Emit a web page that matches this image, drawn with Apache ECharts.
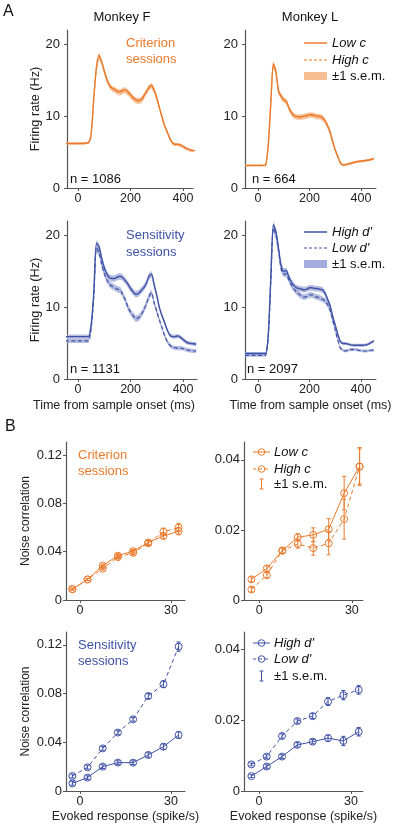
<!DOCTYPE html>
<html><head><meta charset="utf-8">
<script src="https://cdn.jsdelivr.net/npm/echarts@6/dist/echarts.min.js"></script>
<style>html,body{margin:0;padding:0;background:#fff}#c{width:400px;height:828px}</style>
</head><body><div id="c"></div>
<script>
// ---------- Panel A: firing rate time courses ----------
const time = [-50,-40,-30,-20,-10,0,10,20,30,40,50,60,70,80,90,100,110,120,130,140,150,160,170,180,190,200,210,220,230,240,250,260,270,280,290,300,310,320,330,340,350,360,370,380,390,400,410,420,430,440,450];

const fLowC  = [6.2,6.2,6.2,6.2,6.2,6.2,6.2,6.2,6.25,6.3,7.5,12.5,16.8,18.5,17.6,16.3,15.1,14.3,13.9,13.7,13.5,13.4,13.6,13.7,13.4,13.0,12.6,12.3,12.2,12.3,12.8,13.4,14.0,14.3,13.6,12.6,11.2,9.9,8.7,7.8,6.9,6.3,6.1,6.1,6.0,5.8,5.6,5.4,5.3,5.2,5.2];
const fHighC = [6.2,6.2,6.2,6.2,6.2,6.2,6.2,6.2,6.25,6.3,7.4,12.3,16.6,18.3,17.5,16.2,15.0,14.2,13.8,13.6,13.3,13.2,13.4,13.5,13.2,12.8,12.4,12.1,12.0,12.1,12.6,13.3,13.9,14.2,13.5,12.5,11.1,9.8,8.6,7.7,6.8,6.2,6.0,6.0,5.9,5.7,5.5,5.3,5.2,5.15,5.1];
const semFC  = [0.15,0.15,0.15,0.15,0.15,0.15,0.15,0.15,0.15,0.15,0.2,0.3,0.4,0.45,0.4,0.35,0.35,0.35,0.35,0.35,0.35,0.35,0.35,0.35,0.35,0.35,0.35,0.35,0.35,0.35,0.35,0.35,0.35,0.35,0.35,0.35,0.25,0.22,0.2,0.2,0.18,0.18,0.18,0.18,0.18,0.18,0.18,0.18,0.18,0.18,0.18];

const lLowC  = [3.15,3.15,3.15,3.15,3.15,3.15,3.15,3.15,3.2,6.0,11.8,17.3,16.2,13.5,12.8,12.3,12.1,11.2,10.5,10.1,9.95,9.9,9.95,10.0,10.1,10.2,10.2,10.1,10.0,10.0,9.8,9.4,8.7,7.8,6.5,5.3,4.4,3.5,3.2,3.25,3.35,3.45,3.55,3.65,3.7,3.75,3.8,3.85,3.9,4.0,4.1];
const lHighC = [3.1,3.1,3.1,3.1,3.1,3.1,3.1,3.1,3.15,5.9,11.6,17.1,16.1,13.4,12.7,12.2,12.0,11.1,10.4,10.0,9.85,9.8,9.85,9.9,10.0,10.1,10.1,10.0,9.9,9.9,9.7,9.3,8.6,7.7,6.4,5.2,4.3,3.45,3.15,3.2,3.3,3.4,3.5,3.6,3.65,3.7,3.75,3.8,3.85,3.95,4.05];
const semLC  = [0.12,0.12,0.12,0.12,0.12,0.12,0.12,0.12,0.12,0.2,0.35,0.45,0.45,0.4,0.35,0.35,0.35,0.35,0.35,0.35,0.35,0.35,0.35,0.35,0.35,0.35,0.35,0.35,0.35,0.35,0.35,0.35,0.35,0.35,0.35,0.25,0.2,0.18,0.15,0.15,0.15,0.15,0.15,0.15,0.15,0.15,0.15,0.15,0.15,0.15,0.15];

const fHighD = [5.9,5.9,5.9,5.9,5.9,5.9,5.9,5.9,5.9,5.9,7.5,12.0,18.9,18.4,16.8,15.5,14.6,14.1,14.0,14.0,14.2,14.3,14.1,13.7,13.2,12.6,12.1,11.8,11.9,12.3,12.7,13.3,14.3,14.6,13.1,11.6,9.9,8.8,7.8,6.8,6.1,5.9,5.9,6.0,5.8,5.5,5.2,5.0,4.95,4.9,4.85];
const fLowD  = [5.3,5.3,5.3,5.3,5.3,5.3,5.3,5.3,5.3,5.3,7.0,11.5,18.2,17.6,16.0,14.7,13.8,13.2,12.9,12.7,12.5,12.4,11.8,11.0,10.0,9.3,8.8,8.4,8.5,8.9,9.6,10.4,11.5,12.0,10.6,9.4,8.2,7.1,6.0,5.2,4.7,4.4,4.35,4.3,4.3,4.25,4.1,4.0,3.95,3.9,3.9];
const semFS  = [0.3,0.3,0.3,0.3,0.3,0.3,0.3,0.3,0.3,0.3,0.35,0.4,0.5,0.55,0.5,0.45,0.45,0.45,0.45,0.45,0.45,0.45,0.45,0.45,0.45,0.45,0.45,0.45,0.45,0.45,0.45,0.45,0.45,0.45,0.45,0.45,0.35,0.3,0.3,0.28,0.28,0.28,0.28,0.28,0.28,0.28,0.28,0.28,0.28,0.28,0.28];

const lHighD = [3.55,3.55,3.55,3.55,3.55,3.55,3.55,3.55,3.55,6.0,14.0,21.5,20.5,18.2,15.8,15.0,15.1,14.2,13.5,13.0,12.7,12.6,12.5,12.4,12.5,12.7,12.7,12.6,12.6,12.5,12.4,12.0,11.1,10.2,8.7,7.5,6.2,5.2,4.95,4.95,4.85,4.75,4.7,4.7,4.7,4.7,4.7,4.75,4.9,5.1,5.3];
const lLowD  = [3.3,3.3,3.3,3.3,3.3,3.3,3.3,3.3,3.3,5.8,13.6,21.0,20.0,17.8,15.3,14.6,14.6,13.8,13.05,12.5,12.1,11.8,11.5,11.4,11.5,11.7,11.7,11.5,11.4,11.3,11.1,10.9,10.4,9.6,8.2,6.8,5.4,4.3,4.0,3.9,4.0,4.1,4.1,4.1,4.0,3.95,3.9,3.9,3.95,4.0,4.0];
const semLS  = [0.2,0.2,0.2,0.2,0.2,0.2,0.2,0.2,0.2,0.3,0.45,0.5,0.5,0.45,0.4,0.4,0.4,0.4,0.4,0.4,0.4,0.4,0.4,0.4,0.4,0.4,0.4,0.4,0.4,0.4,0.4,0.4,0.4,0.4,0.4,0.3,0.25,0.22,0.2,0.2,0.2,0.2,0.2,0.2,0.2,0.2,0.2,0.2,0.2,0.2,0.2];

const timeTicks = [0, 200, 400];
const rateTicks = [0, 10, 20];

// ---------- Panel B: noise correlation vs evoked response ----------
const evoked = [-2.5, 2.5, 7.5, 12.5, 17.5, 22.5, 27.5, 32.5];
const evokedTicks = [0, 30];

const ncFLowC  = [0.009, 0.017, 0.0285, 0.0367, 0.0405, 0.0475, 0.053, 0.057];
const ncFHighC = [0.009, 0.017, 0.026, 0.0355, 0.039, 0.047, 0.0565, 0.060];
const erFLowC  = [0.0008, 0.0008, 0.0012, 0.0015, 0.0015, 0.0018, 0.0025, 0.003];
const erFHighC = [0.0008, 0.0009, 0.0012, 0.0015, 0.0018, 0.002, 0.003, 0.0035];

const ncLLowC  = [0.0059, 0.009, 0.0141, 0.0179, 0.0186, 0.0202, 0.0305, 0.0381];
const ncLHighC = [0.003, 0.0071, 0.0141, 0.016, 0.0148, 0.0162, 0.0231, 0.0381];
const erLLowC  = [0.0007, 0.0008, 0.0008, 0.001, 0.002, 0.003, 0.0048, 0.0054];
const erLHighC = [0.0007, 0.0008, 0.0008, 0.0012, 0.002, 0.0033, 0.0057, 0.005];

const ncFHighD = [0.0063, 0.011, 0.020, 0.0233, 0.0233, 0.0296, 0.0364, 0.046];
const ncFLowD  = [0.0123, 0.0195, 0.035, 0.048, 0.0589, 0.078, 0.0877, 0.1186];
const erFHighD = [0.0015, 0.0015, 0.0015, 0.0015, 0.0015, 0.0018, 0.0022, 0.0028];
const erFLowD  = [0.0015, 0.0015, 0.0015, 0.0015, 0.0015, 0.002, 0.0028, 0.0038];

const ncLHighD = [0.0042, 0.0069, 0.0097, 0.013, 0.0139, 0.0149, 0.0141, 0.0167];
const ncLLowD  = [0.0075, 0.0097, 0.0155, 0.0197, 0.0211, 0.0252, 0.027, 0.0285];
const erLHighD = [0.0004, 0.0005, 0.0005, 0.0006, 0.0006, 0.0009, 0.0013, 0.0012];
const erLLowD  = [0.0004, 0.0005, 0.0006, 0.0006, 0.0007, 0.0011, 0.0013, 0.0012];

const ncTicksBig = [0, 0.04, 0.08, 0.12];
const ncTicksSmall = [0, 0.02, 0.04];

// ---------- styling ----------
const FONT = 'Liberation Sans, Arial, Helvetica, sans-serif';
const OR = '#EA7A2C', OR_L = '#F1A56C', OR_B = '#F5BE93';
const BL = '#3F52A6', BL_B = '#A3ACDA';
const AX = '#555';

const grids = [
  {left: 67,  top: 30,  width: 126, height: 158},
  {left: 245, top: 30,  width: 131, height: 158},
  {left: 67,  top: 221, width: 130, height: 158},
  {left: 245, top: 221, width: 131, height: 158},
  {left: 66,  top: 442, width: 119, height: 158},
  {left: 244, top: 442, width: 119, height: 158},
  {left: 66,  top: 632, width: 119, height: 159},
  {left: 244, top: 632, width: 119, height: 159}
];
const xr = [[-42,438],[-50,458],[-42,453],[-50,458],[-4.6,34.6],[-4.9,33.6],[-4.6,34.6],[-4.9,33.9]];
const yr = [[0,22],[0,22],[0,22],[0,22],[0,0.1308],[0,0.0451],[0,0.1306],[0,0.0448]];

function xAxisDef(i) {
  const isA = i < 4;
  const ticks = isA ? timeTicks : evokedTicks;
  let name = '', gap = 20, pad = [0,0,0,0];
  if (i === 2) { name = 'Time from sample onset (ms)'; pad = [0, 36, 0, 0]; }
  if (i === 3) { name = 'Time from sample onset (ms)'; }
  if (i === 6 || i === 7) { name = 'Evoked response (spike/s)'; gap = 19; }
  return {
    type: 'value', gridIndex: i, min: xr[i][0], max: xr[i][1],
    name, nameLocation: 'middle', nameGap: gap,
    nameTextStyle: {fontFamily: FONT, fontSize: 12.5, color: '#222', padding: pad},
    splitLine: {show: false},
    axisLine: {show: true, onZero: false, lineStyle: {color: AX, width: 1}},
    axisTick: {show: true, length: 3, customValues: ticks, lineStyle: {color: AX}},
    axisLabel: {customValues: ticks, margin: 4, fontFamily: FONT, fontSize: 12.5, color: '#222'}
  };
}
function yAxisDef(i) {
  const isA = i < 4;
  let ticks = isA ? rateTicks : ((i === 4 || i === 6) ? ncTicksBig : ncTicksSmall);
  let name = '', gap = 23;
  if (i === 0 || i === 2) name = 'Firing rate (Hz)';
  if (i === 4 || i === 6) { name = 'Noise correlation'; gap = 34; }
  return {
    type: 'value', gridIndex: i, min: yr[i][0], max: yr[i][1],
    name, nameLocation: 'middle', nameGap: gap,
    nameTextStyle: {fontFamily: FONT, fontSize: isA ? 12.7 : 12, color: '#222'},
    splitLine: {show: false},
    axisLine: {show: true, onZero: false, lineStyle: {color: AX, width: 1.2}},
    axisTick: {show: true, length: 3, customValues: ticks, lineStyle: {color: AX}},
    axisLabel: {customValues: ticks, margin: isA ? 7 : 4, fontFamily: FONT, fontSize: 13, color: '#222',
      formatter: v => (v === 0 ? '0' : String(+v.toFixed(3)))}
  };
}

const series = [];
// s.e.m. band: a polygon built from the data through the axis scales
function band(gi, vals, sem, color) {
  const data = time.map((t, k) => [t, vals[k] - sem[k], vals[k] + sem[k]]);
  series.push({type: 'custom', xAxisIndex: gi, yAxisIndex: gi, silent: true, z: 1,
    data: data, encode: {x: 0, y: [1, 2]},
    renderItem: function (params, api) {
      if (params.dataIndex !== 0) return null;
      const up = [], lo = [];
      for (let k = 0; k < data.length; k++) {
        up.push(api.coord([data[k][0], data[k][2]]));
        lo.push(api.coord([data[k][0], data[k][1]]));
      }
      const pts = up.concat(lo.reverse());
      const cs = params.coordSys;
      return {type: 'polygon', shape: {points: pts}, style: {fill: color, opacity: 0.8},
        clipPath: {type: 'rect', shape: {x: cs.x, y: cs.y, width: cs.width, height: cs.height}}};
    }});
}
function trace(gi, vals, color, dashed) {
  series.push({type: 'line', xAxisIndex: gi, yAxisIndex: gi, symbol: 'none', silent: true, smooth: 0.25,
    lineStyle: {color: color, width: dashed ? 1.2 : 1.4, type: dashed ? [4, 2.5] : 'solid'},
    data: time.map((t, k) => [t, vals[k]]), z: 3});
}
function ncLine(gi, ys, color, dashed) {
  series.push({type: 'line', xAxisIndex: gi, yAxisIndex: gi, symbol: 'circle', symbolSize: 7, silent: true,
    lineStyle: {color: color, width: 1, type: dashed ? [4, 3] : 'solid'},
    itemStyle: {color: 'rgba(255,255,255,0)', borderColor: color, borderWidth: 1},
    data: evoked.map((x, k) => [x, ys[k]]), z: 3});
}
function errBars(gi, ys, es, color) {
  series.push({type: 'custom', xAxisIndex: gi, yAxisIndex: gi, silent: true, z: 4,
    data: evoked.map((x, k) => [x, ys[k] - es[k], ys[k] + es[k]]),
    encode: {x: 0, y: [1, 2]},
    renderItem: function (params, api) {
      const lo = api.coord([api.value(0), api.value(1)]);
      const hi = api.coord([api.value(0), api.value(2)]);
      const w = 2, st = {stroke: color, lineWidth: 1};
      return {type: 'group', children: [
        {type: 'line', shape: {x1: lo[0], y1: lo[1], x2: hi[0], y2: hi[1]}, style: st},
        {type: 'line', shape: {x1: lo[0] - w, y1: lo[1], x2: lo[0] + w, y2: lo[1]}, style: st},
        {type: 'line', shape: {x1: hi[0] - w, y1: hi[1], x2: hi[0] + w, y2: hi[1]}, style: st}
      ]};
    }});
}

// Panel A
band(0, fHighC, semFC, OR_B); band(0, fLowC, semFC, OR_B);
trace(0, fHighC, OR_L, true); trace(0, fLowC, OR, false);
band(1, lHighC, semLC, OR_B); band(1, lLowC, semLC, OR_B);
trace(1, lHighC, OR_L, true); trace(1, lLowC, OR, false);
band(2, fLowD, semFS, BL_B); band(2, fHighD, semFS, BL_B);
trace(2, fLowD, BL, true); trace(2, fHighD, BL, false);
band(3, lLowD, semLS, BL_B); band(3, lHighD, semLS, BL_B);
trace(3, lLowD, BL, true); trace(3, lHighD, BL, false);
// Panel B
errBars(4, ncFLowC, erFLowC, OR); errBars(4, ncFHighC, erFHighC, OR);
ncLine(4, ncFLowC, OR, false); ncLine(4, ncFHighC, OR, true);
errBars(5, ncLLowC, erLLowC, OR); errBars(5, ncLHighC, erLHighC, OR);
ncLine(5, ncLLowC, OR, false); ncLine(5, ncLHighC, OR, true);
errBars(6, ncFHighD, erFHighD, BL); errBars(6, ncFLowD, erFLowD, BL);
ncLine(6, ncFHighD, BL, false); ncLine(6, ncFLowD, BL, true);
errBars(7, ncLHighD, erLHighD, BL); errBars(7, ncLLowD, erLLowD, BL);
ncLine(7, ncLHighD, BL, false); ncLine(7, ncLLowD, BL, true);

// ---------- annotations / legends ----------
function txt(x, y, s, o) {
  o = o || {};
  return {type: 'text', x: x, y: y, silent: true, z: 10, style: {text: s, fill: o.fill || '#111',
    font: (o.italic ? 'italic ' : '') + (o.weight || 'normal') + ' ' + (o.size || 13) + 'px ' + FONT,
    align: o.align || 'left', verticalAlign: 'middle'}};
}
function ln(x1, y1, x2, y2, c, w, dash) {
  return {type: 'line', silent: true, z: 10, shape: {x1, y1, x2, y2}, style: {stroke: c, lineWidth: w || 1.4, lineDash: dash || null}};
}
function circ(cx, cy, c) {
  return {type: 'circle', silent: true, z: 11, shape: {cx, cy, r: 3.3}, style: {stroke: c, fill: 'rgba(0,0,0,0)', lineWidth: 1}};
}
const G = [];
G.push(txt(3, 12, 'A', {size: 16}));
G.push(txt(5, 427, 'B', {size: 16}));
G.push(txt(122, 17, 'Monkey F', {size: 13, align: 'center'}));
G.push(txt(310, 17, 'Monkey L', {size: 13, align: 'center'}));
G.push(txt(126, 43, 'Criterion', {fill: OR}));
G.push(txt(126, 59, 'sessions', {fill: OR}));
G.push(txt(126, 235, 'Sensitivity', {fill: BL}));
G.push(txt(126, 252, 'sessions', {fill: BL}));
G.push(txt(78, 455, 'Criterion', {fill: OR}));
G.push(txt(78, 471, 'sessions', {fill: OR}));
G.push(txt(78, 645, 'Sensitivity', {fill: BL}));
G.push(txt(78, 661, 'sessions', {fill: BL}));
G.push(txt(70, 179, 'n = 1086'));
G.push(txt(252, 179, 'n = 664'));
G.push(txt(70, 369, 'n = 1131'));
G.push(txt(247, 369, 'n = 2097'));
// Legend A top-right
G.push(ln(304, 43, 327, 43, OR, 1.5)); G.push(txt(332, 43, 'Low c', {italic: true}));
G.push(ln(304, 60, 327, 60, OR_L, 1.3, [3, 2])); G.push(txt(332, 60, 'High c', {italic: true}));
G.push({type: 'rect', silent: true, z: 10, shape: {x: 304, y: 72, width: 23, height: 8}, style: {fill: OR_B}});
G.push(txt(332, 76, '±1 s.e.m.'));
// Legend A bottom-right
G.push(ln(304, 232, 327, 232, BL, 1.5)); G.push(txt(332, 232, "High d'", {italic: true}));
G.push(ln(304, 248, 327, 248, BL, 1.2, [3, 2])); G.push(txt(332, 248, "Low d'", {italic: true}));
G.push({type: 'rect', silent: true, z: 10, shape: {x: 304, y: 260, width: 23, height: 8}, style: {fill: BL_B}});
G.push(txt(332, 264, '±1 s.e.m.'));
// Legend B top-right
G.push(ln(253, 452, 270, 452, OR, 1)); G.push(circ(261.5, 452, OR)); G.push(txt(274, 452, 'Low c', {italic: true}));
G.push(ln(253, 469, 270, 469, OR, 1, [3, 3])); G.push(circ(261.5, 469, OR)); G.push(txt(274, 469, 'High c', {italic: true}));
G.push(ln(261.5, 479, 261.5, 489, OR, 1)); G.push(ln(259.5, 479, 263.5, 479, OR, 1)); G.push(ln(259.5, 489, 263.5, 489, OR, 1));
G.push(txt(274, 484, '±1 s.e.m.'));
// Legend B bottom-right
G.push(ln(253, 643, 270, 643, BL, 1)); G.push(circ(261.5, 643, BL)); G.push(txt(274, 643, "High d'", {italic: true}));
G.push(ln(253, 659, 270, 659, BL, 1, [3, 3])); G.push(circ(261.5, 659, BL)); G.push(txt(274, 659, "Low d'", {italic: true}));
G.push(ln(261.5, 671, 261.5, 681, BL, 1)); G.push(ln(259.5, 671, 263.5, 671, BL, 1)); G.push(ln(259.5, 681, 263.5, 681, BL, 1));
G.push(txt(274, 676, '±1 s.e.m.'));

const chart = echarts.init(document.getElementById('c'), null, {renderer: 'canvas'});
chart.setOption({
  animation: false,
  backgroundColor: '#fff',
  textStyle: {fontFamily: FONT},
  grid: grids,
  xAxis: grids.map((g, i) => xAxisDef(i)),
  yAxis: grids.map((g, i) => yAxisDef(i)),
  series: series,
  graphic: {elements: G}
});
</script>
</body></html>
